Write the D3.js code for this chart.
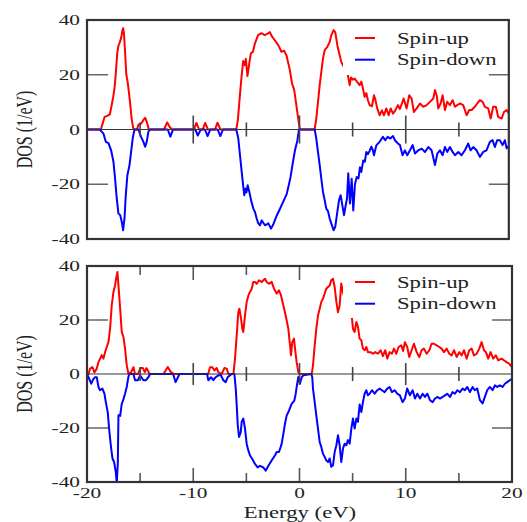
<!DOCTYPE html>
<html>
<head>
<meta charset="utf-8">
<script src="https://cdn.jsdelivr.net/npm/d3@7"></script>
<style>
body { margin: 0; background: #fff; }
text { font-family: "Liberation Serif", "Times New Roman", serif; fill: #222; }
</style>
</head>
<body>
<svg id="graph" width="527" height="522"></svg>
<script>
// energies (eV) and DOS (1/eV)
var topUp = [[-20,0],[-18.7,0],[-18.5,2.5],[-18.35,4.6],[-18.1,5],[-17.85,5.5],[-17.7,8.5],[-17.55,11.5],[-17.4,15.5],[-17.28,21],[-17.15,28],[-17.05,30.5],[-16.9,32],[-16.78,33.5],[-16.68,36],[-16.6,37],[-16.52,35],[-16.42,28.5],[-16.3,20],[-16.2,18],[-16.1,15],[-15.95,10],[-15.8,4],[-15.65,0.5],[-15.55,0],[-15.3,0],[-15.15,1.8],[-14.9,2.2],[-14.7,3.4],[-14.53,4.3],[-14.35,2.5],[-14.18,0],[-12.75,0],[-12.45,2.6],[-12.2,0.8],[-12.0,0],[-9.95,0],[-9.7,2.4],[-9.45,0],[-9.1,0],[-8.88,2.4],[-8.62,0],[-7.95,0],[-7.72,2.5],[-7.45,0],[-5.95,0],[-5.8,3.5],[-5.62,12],[-5.45,19.5],[-5.3,25],[-5.15,23.5],[-5.05,25.8],[-4.9,19.5],[-4.75,23.5],[-4.58,27.8],[-4.38,28.4],[-4.2,31.4],[-3.9,34.5],[-3.58,35.2],[-3.27,34.5],[-3.0,35],[-2.8,35.6],[-2.58,33.9],[-2.32,32.6],[-2.0,30.8],[-1.7,28.4],[-1.45,28.8],[-1.22,27],[-0.9,21.5],[-0.7,16.8],[-0.5,14.5],[-0.3,9],[-0.12,4],[0.03,0],[1.42,0],[1.58,4],[1.74,10],[1.9,16.2],[2.05,21],[2.21,25.9],[2.37,29],[2.62,30.2],[2.84,32],[2.99,34.4],[3.21,36.3],[3.37,35.5],[3.56,30.8],[3.78,27.1],[3.93,24.7],[4.15,23],[4.4,22.5],[4.56,19.8],[4.72,16.2],[4.85,19],[5.02,18.2],[5.19,18.6],[5.4,17.5],[5.66,16.2],[5.82,17.5],[5.97,15],[6.13,11.9],[6.29,13.3],[6.44,10.7],[6.6,8.9],[6.82,8.5],[7.01,12.5],[7.13,11],[7.32,7.7],[7.54,5.2],[7.76,7],[7.95,5.2],[8.17,7.7],[8.39,5.2],[8.58,7.7],[8.8,5.8],[9.02,7],[9.27,8.9],[9.45,7.5],[9.64,9.5],[9.8,11.3],[10.08,7.7],[10.33,12.5],[10.55,11.3],[10.77,6.4],[11.03,7.7],[11.34,9.5],[11.65,8.3],[11.97,8.9],[12.28,10.1],[12.59,11.3],[12.75,14.4],[12.91,12.5],[13.06,7.7],[13.28,9.5],[13.47,12.5],[13.69,7.1],[13.9,10.1],[14.16,8.9],[14.41,10.7],[14.63,8.3],[14.85,8.9],[15.1,9.5],[15.41,8.9],[15.73,5.2],[15.98,7.1],[16.2,7.1],[16.5,8.3],[16.73,9.5],[16.98,10.7],[17.23,10.1],[17.45,8.3],[17.76,7.7],[17.99,4],[18.23,8.3],[18.48,8.3],[18.7,4.6],[19.02,4],[19.24,6.4],[19.49,7.1],[19.7,6]]

var topDn = [[-20,0],[-18.8,0],[-18.45,-1.5],[-18.23,-4.5],[-17.98,-5],[-17.73,-7.6],[-17.51,-11.8],[-17.36,-17.9],[-17.2,-25.2],[-17.04,-30.7],[-16.88,-31.2],[-16.73,-33.7],[-16.6,-36.8],[-16.47,-32.5],[-16.35,-24],[-16.2,-16.7],[-16.0,-13],[-15.85,-8.2],[-15.7,-3.3],[-15.53,0],[-15.16,0],[-14.91,-2.7],[-14.69,-4.5],[-14.53,-6.3],[-14.38,-4.5],[-14.22,-0.8],[-14.07,0],[-12.4,0],[-12.15,-2.6],[-11.9,0],[-9.8,0],[-9.57,-2.2],[-9.3,0],[-8.9,0],[-8.65,-2.4],[-8.4,0],[-7.7,0],[-7.45,-2.4],[-7.2,0],[-5.95,0],[-5.76,-3.3],[-5.6,-9.4],[-5.44,-15.5],[-5.34,-19.1],[-5.2,-24],[-5.08,-21.6],[-5.0,-23],[-4.88,-20.4],[-4.72,-22.8],[-4.56,-25.8],[-4.35,-28.9],[-4.19,-30.1],[-4.03,-32.5],[-3.88,-34.3],[-3.72,-35],[-3.56,-33.2],[-3.25,-35],[-2.93,-34.3],[-2.68,-36.2],[-2.45,-34.5],[-2.15,-31.5],[-1.9,-29.5],[-1.68,-27.6],[-1.43,-25.5],[-1.2,-23.5],[-1.05,-21],[-0.85,-17.5],[-0.6,-11.5],[-0.42,-7.5],[-0.2,-4],[-0.05,0],[1.43,0],[1.58,-3.3],[1.74,-8.2],[1.9,-13],[2.05,-17.9],[2.21,-22.8],[2.37,-25.8],[2.52,-28.9],[2.68,-29.8],[2.84,-32.5],[2.99,-34.3],[3.21,-36.8],[3.37,-35.5],[3.56,-30.1],[3.72,-25.8],[3.87,-24],[4.03,-27.6],[4.19,-31.3],[4.31,-28.5],[4.47,-25.2],[4.59,-16],[4.75,-27],[4.91,-18],[5.06,-29.6],[5.22,-20],[5.38,-17.4],[5.55,-17.9],[5.69,-13.8],[5.82,-15.5],[6.0,-11.3],[6.15,-11.8],[6.29,-8.2],[6.44,-9],[6.6,-7.8],[6.76,-6.3],[6.9,-7.5],[7.01,-9.4],[7.23,-5.8],[7.54,-4.5],[7.85,-2.7],[8.07,-3.9],[8.3,-2.7],[8.55,-3.3],[8.8,-2.4],[9.0,-4],[9.27,-5.1],[9.45,-5.7],[9.7,-9.4],[9.92,-7.6],[10.14,-9.4],[10.4,-7.6],[10.65,-5.7],[10.87,-8.8],[11.18,-7.6],[11.5,-7],[11.81,-8.2],[12.12,-6.4],[12.43,-7.6],[12.75,-13],[12.97,-8.8],[13.22,-7.6],[13.47,-9.4],[13.69,-6.4],[13.9,-8.2],[14.16,-6.4],[14.41,-8.2],[14.63,-9.4],[14.94,-8.2],[15.25,-9.4],[15.57,-7.6],[15.88,-5.1],[16.1,-7.6],[16.35,-6.4],[16.66,-7.6],[16.98,-10],[17.29,-8.2],[17.6,-7.6],[17.92,-4.5],[18.17,-3.9],[18.39,-6.4],[18.61,-3.9],[18.86,-3.9],[19.11,-5.7],[19.33,-3.9],[19.49,-6.9],[19.7,-6]]

var botUp = [[-20,0],[-19.86,0],[-19.71,2],[-19.49,2.6],[-19.3,0.6],[-19.08,2],[-18.92,4.4],[-18.77,5.7],[-18.61,7],[-18.45,5.7],[-18.3,8.1],[-18.14,10],[-17.98,11.8],[-17.83,16.7],[-17.67,25.5],[-17.51,30.4],[-17.36,32.8],[-17.26,35.3],[-17.14,37.8],[-17.04,32.8],[-16.88,24.2],[-16.73,15.6],[-16.57,13.7],[-16.42,9.4],[-16.26,3.2],[-16.1,0],[-15.85,0.7],[-15.63,2.5],[-15.48,0],[-15.2,0],[-14.97,2.2],[-14.75,2.2],[-14.56,0.7],[-14.41,2.2],[-14.1,0],[-12.8,0],[-12.4,2.6],[-12.1,0.7],[-11.8,0],[-8.6,0],[-8.42,2.5],[-8.2,2.5],[-8.01,1.3],[-7.79,2.2],[-7.64,0.7],[-7.33,0],[-7.07,2.2],[-6.85,2],[-6.7,0],[-6.22,0],[-6.07,5.7],[-5.91,14.3],[-5.76,22.9],[-5.66,24.2],[-5.5,20.5],[-5.38,16.7],[-5.29,15.6],[-5.13,21.7],[-4.97,26.7],[-4.81,29.1],[-4.66,30.4],[-4.5,31.6],[-4.35,34.1],[-4.19,34.1],[-4.03,33.4],[-3.81,34.7],[-3.56,34.1],[-3.25,35.3],[-3.09,34.1],[-2.87,33.4],[-2.62,34.1],[-2.4,31.6],[-2.15,29.8],[-1.93,31],[-1.74,29.1],[-1.52,25.4],[-1.37,22.9],[-1.21,19.9],[-1.05,16.7],[-0.89,10.6],[-0.8,6.9],[-0.68,11.8],[-0.52,13.1],[-0.42,9.4],[-0.27,4.4],[-0.11,0.7],[0.05,0],[1.15,0],[1.27,3.2],[1.43,10.6],[1.58,16.7],[1.74,21.7],[1.9,24.2],[2.05,26.7],[2.21,27.9],[2.37,29.8],[2.52,31.6],[2.68,32.2],[2.84,32.8],[2.99,34.7],[3.15,35.3],[3.31,32.2],[3.47,26.7],[3.62,22.9],[3.78,25.4],[3.87,30.4],[3.93,33.5],[4.1,30],[4.4,26],[4.7,23],[4.94,20.5],[5.03,16.7],[5.19,15.6],[5.35,19.3],[5.5,17.5],[5.66,13.1],[5.82,12.5],[5.97,9.4],[6.13,8.8],[6.29,10],[6.44,8.1],[6.69,8.1],[6.91,7.5],[7.13,8.1],[7.38,7.5],[7.63,8.8],[7.85,6.6],[8.07,8.8],[8.26,5.7],[8.48,8.1],[8.7,7.5],[8.89,9.4],[9.11,7.5],[9.33,10],[9.58,10.6],[9.75,8.5],[9.92,11.8],[10.14,10],[10.33,6.3],[10.55,8.8],[10.77,11.2],[11.03,8.1],[11.28,6.3],[11.49,8.8],[11.71,9.4],[11.97,7.5],[12.22,8.8],[12.43,11.2],[12.66,11.2],[12.91,10.6],[13.16,10],[13.38,9.4],[13.6,8.1],[13.85,9.4],[14.1,7.5],[14.32,6.9],[14.54,8.8],[14.79,6.3],[15.04,8.1],[15.26,6.9],[15.48,8.8],[15.73,5.7],[15.98,8.8],[16.2,9.4],[16.42,6.9],[16.67,7.5],[16.92,9.4],[17.14,11.8],[17.36,8.8],[17.55,8.1],[17.76,5.7],[17.99,8.1],[18.23,5.7],[18.48,6.9],[18.7,5.1],[19.02,5.7],[19.24,5.1],[19.49,4.4],[19.74,3.8],[20,2.6]]

var botDn = [[-20,0],[-19.86,-1.2],[-19.6,-3.6],[-19.4,-1.8],[-19.24,-1.2],[-19.08,-1.2],[-18.92,-4.8],[-18.77,-6],[-18.55,-5.4],[-18.36,-7.3],[-18.23,-10.4],[-18.05,-14.1],[-17.92,-20.2],[-17.76,-26.4],[-17.6,-31.3],[-17.45,-32.6],[-17.29,-36.3],[-17.2,-40.6],[-17.1,-33],[-17.04,-15.3],[-16.88,-15.5],[-16.73,-11.1],[-16.57,-9.3],[-16.42,-7.3],[-16.26,-4.8],[-16.1,-1],[-16.0,0],[-15.63,0],[-15.48,-2.3],[-15.22,-2.3],[-15.0,-0.5],[-14.69,-2.3],[-14.45,-2.3],[-14.22,-1.2],[-14.07,0],[-11.9,0],[-11.66,-3],[-11.44,-1.2],[-11.3,0],[-8.7,0],[-8.58,-2.3],[-8.33,-1.2],[-8.11,-2.3],[-7.89,-1.2],[-7.64,-0.5],[-7.39,-0.5],[-7.17,-2.3],[-6.95,-3],[-6.76,-1.2],[-6.38,0],[-6.13,0],[-6.0,-5.4],[-5.91,-11.6],[-5.81,-19],[-5.69,-23.3],[-5.53,-21.5],[-5.44,-17.7],[-5.29,-16.5],[-5.13,-20.2],[-4.97,-25.9],[-4.81,-28.4],[-4.66,-30.2],[-4.44,-31.5],[-4.19,-33.3],[-3.94,-34.6],[-3.72,-34],[-3.41,-34.6],[-3.18,-35.8],[-2.93,-34],[-2.62,-32],[-2.3,-30.1],[-2.15,-28.9],[-1.93,-28.9],[-1.68,-25.9],[-1.52,-22.2],[-1.37,-18.5],[-1.21,-15.4],[-0.99,-13.6],[-0.74,-11.1],[-0.49,-9.9],[-0.36,-7.4],[-0.27,-4.9],[-0.11,-1.1],[0.05,-3.5],[0.2,-1.2],[0.36,-0.5],[1.1,0],[1.2,-1.1],[1.27,-5.4],[1.43,-10.4],[1.58,-15.3],[1.74,-20.2],[1.9,-25.2],[2.05,-27],[2.21,-29.5],[2.37,-30.7],[2.52,-32],[2.68,-32.6],[2.84,-31.3],[2.99,-34.4],[3.15,-33.8],[3.31,-28.9],[3.47,-26.4],[3.62,-22.7],[3.78,-26.4],[3.93,-32.6],[4.09,-27.7],[4.25,-25.8],[4.41,-26.4],[4.56,-24.5],[4.72,-25.8],[4.88,-20.2],[5.03,-16.5],[5.19,-20.2],[5.35,-16.5],[5.5,-17.7],[5.66,-11.3],[5.82,-14.1],[5.97,-10.4],[6.13,-7.3],[6.29,-6],[6.44,-7.9],[6.6,-7.3],[6.82,-6],[7.07,-7.3],[7.32,-6],[7.54,-5.4],[7.76,-6],[8.01,-6.7],[8.26,-5.4],[8.48,-4.8],[8.7,-6.7],[8.95,-6],[9.2,-7.3],[9.45,-7.9],[9.7,-10.4],[9.92,-9.1],[10.14,-5.4],[10.39,-7.9],[10.65,-6],[10.87,-9.1],[11.09,-7.3],[11.34,-9.1],[11.59,-7.3],[11.81,-8.5],[12.03,-7.3],[12.28,-9.7],[12.53,-10.4],[12.75,-9.1],[12.97,-8.5],[13.22,-9.1],[13.47,-8.5],[13.69,-7.9],[13.9,-7.3],[14.16,-8.5],[14.41,-6.7],[14.63,-7.3],[14.85,-6],[15.1,-6.7],[15.35,-5.4],[15.57,-6],[15.79,-4.8],[16.04,-6.7],[16.29,-4.8],[16.5,-6],[16.73,-5.4],[16.98,-9.7],[17.23,-10.9],[17.45,-8.5],[17.67,-6],[17.92,-4.8],[18.17,-6],[18.39,-4.2],[18.61,-4.8],[18.86,-4.2],[19.11,-4.8],[19.33,-3.6],[19.55,-3],[19.8,-2.3],[20,-1.8]]

var xTicks = [-15, -10, -5, 0, 5, 10, 15]
var xLabels = [-20, -10, 0, 10, 20]
var yLabels = [40, 20, 0, -20, -40]
var yTicks = [20, -20]
var seriesNames = ["Spin-up", "Spin-down"]

var stretch = 1.42
var left = 87

var svg = d3.select("#graph")

var xScale = d3.scaleLinear()
    .domain([-20, 20])
    .range([left, 512])

var panels = [
    {top: 20, bottom: 239, xMax: 19.7, up: topUp, down: topDn, edgeTicks: false, zeroMajor: 14, legendY: 18, boxH: 55},
    {top: 266, bottom: 482, xMax: 20, up: botUp, down: botDn, edgeTicks: true, zeroMajor: 11, legendY: 16, boxH: 52}
]

var drawPanel = function(p, i)
{
    var right = xScale(p.xMax)
    var yScale = d3.scaleLinear()
        .domain([-40, 40])
        .range([p.bottom, p.top])

    var g = svg.append("g")

    g.append("clipPath")
        .attr("id", "clip" + i)
        .append("rect")
        .attr("x", left)
        .attr("y", p.top)
        .attr("width", right - left)
        .attr("height", p.bottom - p.top)

    // ticks on the upper and lower frame (lower panel only)
    if (p.edgeTicks) {
        g.selectAll(".edge")
            .data(xTicks)
            .enter()
            .append("path")
            .attr("d", function(d) {
                var len = d % 10 == 0 ? 14 : 9
                var x = xScale(d)
                return "M" + x + "," + p.top + "v" + len + "M" + x + "," + p.bottom + "v" + (-len)
            })
            .attr("stroke", "#555")
            .attr("stroke-width", 1.6)
    }

    var line = d3.line()
        .x(function(d) { return xScale(d[0]) })
        .y(function(d) { return yScale(d[1]) })

    g.append("path")
        .datum(p.up)
        .attr("clip-path", "url(#clip" + i + ")")
        .attr("fill", "none")
        .attr("stroke", "#ff0000")
        .attr("stroke-width", 2)
        .attr("stroke-linejoin", "round")
        .attr("d", line)

    g.append("path")
        .datum(p.down)
        .attr("clip-path", "url(#clip" + i + ")")
        .attr("fill", "none")
        .attr("stroke", "#0000ff")
        .attr("stroke-width", 2)
        .attr("stroke-linejoin", "round")
        .attr("d", line)

    // zero line with its ticks
    g.append("line")
        .attr("x1", left)
        .attr("x2", right)
        .attr("y1", yScale(0))
        .attr("y2", yScale(0))
        .attr("stroke", "#333")
        .attr("stroke-width", 1.2)

    g.selectAll(".zt")
        .data(xTicks)
        .enter()
        .append("line")
        .attr("x1", function(d) { return xScale(d) })
        .attr("x2", function(d) { return xScale(d) })
        .attr("y1", function(d) { return yScale(0) - (d % 10 == 0 ? p.zeroMajor : 7) })
        .attr("y2", function(d) { return yScale(0) + (d % 10 == 0 ? p.zeroMajor : 7) })
        .attr("stroke", "#444")
        .attr("stroke-width", 1.6)

    // legend
    g.append("rect")
        .attr("x", 343)
        .attr("y", p.top)
        .attr("width", right - 343)
        .attr("height", p.boxH)
        .attr("fill", "#fff")

    var colors = ["#ff0000", "#0000ff"]
    seriesNames.forEach(function(name, k) {
        var ly = p.top + p.legendY + k * 21.7
        g.append("line")
            .attr("x1", 355)
            .attr("x2", 375)
            .attr("y1", ly)
            .attr("y2", ly)
            .attr("stroke", colors[k])
            .attr("stroke-width", 2)
        g.append("text")
            .attr("transform", "translate(397," + (ly + 5.5) + ") scale(" + stretch + ",1)")
            .style("font-size", "16px")
            .text(name)
    })

    // y ticks, left and right
    g.selectAll(".yt")
        .data(yTicks)
        .enter()
        .append("path")
        .attr("d", function(d) {
            var y = yScale(d)
            return "M" + left + "," + y + "h21M" + right + "," + y + "h-20"
        })
        .attr("stroke", "#666")
        .attr("stroke-width", 1.6)

    g.append("rect")
        .attr("x", left)
        .attr("y", p.top)
        .attr("width", right - left)
        .attr("height", p.bottom - p.top)
        .attr("fill", "none")
        .attr("stroke", "#333")
        .attr("stroke-width", 2.2)

    g.selectAll(".yl")
        .data(yLabels)
        .enter()
        .append("text")
        .attr("transform", function(d) {
            return "translate(80," + (yScale(d) + 5) + ") scale(" + stretch + ",1)"
        })
        .attr("text-anchor", "end")
        .style("font-size", "15px")
        .text(function(d) { return d })

    g.append("text")
        .attr("transform", "translate(32," + yScale(0) + ") scale(" + stretch + ",1) rotate(-90)")
        .attr("text-anchor", "middle")
        .style("font-size", "16px")
        .text("DOS (1/eV)")

    if (i == 1) {
        g.selectAll(".xl")
            .data(xLabels)
            .enter()
            .append("text")
            .attr("transform", function(d) {
                return "translate(" + xScale(d) + ",498) scale(" + stretch + ",1)"
            })
            .attr("text-anchor", "middle")
            .style("font-size", "15px")
            .text(function(d) { return d })

        g.append("text")
            .attr("transform", "translate(300,518) scale(" + stretch + ",1)")
            .attr("text-anchor", "middle")
            .style("font-size", "16px")
            .text("Energy (eV)")
    }
}

panels.forEach(drawPanel)
</script>
</body>
</html>
